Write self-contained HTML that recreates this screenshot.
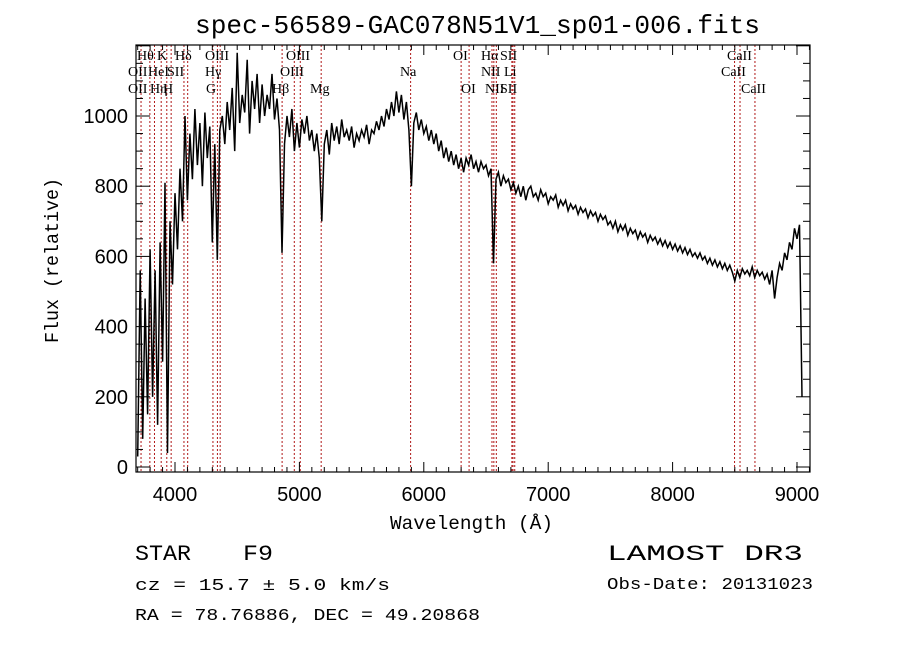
<!DOCTYPE html>
<html><head><meta charset="utf-8"><style>
html,body{margin:0;padding:0;background:#fff;}
svg{display:block;}
</style></head><body>
<svg id="chart" width="900" height="649" viewBox="0 0 900 649" xmlns="http://www.w3.org/2000/svg" font-family="Liberation Mono, monospace">
<rect width="900" height="649" fill="#fff"/>
<text x="195" y="33" font-size="26" textLength="565" lengthAdjust="spacingAndGlyphs">spec-56589-GAC078N51V1_sp01-006.fits</text>
<g id="lines"></g>
<g id="ticks"></g>
<path id="spec" fill="none" stroke="#000" stroke-width="1.5"/>
<rect x="136" y="45" width="674" height="427" fill="none" stroke="#000" stroke-width="1.2"/>
<text x="390" y="529" font-size="19" textLength="163" lengthAdjust="spacingAndGlyphs">Wavelength (Å)</text>
<text transform="translate(58,343) rotate(-90)" font-size="19" textLength="165" lengthAdjust="spacingAndGlyphs">Flux (relative)</text>
<text x="135" y="560" font-size="22" textLength="56" lengthAdjust="spacingAndGlyphs">STAR</text>
<text x="243" y="560" font-size="22" textLength="30" lengthAdjust="spacingAndGlyphs">F9</text>
<text x="607" y="560" font-size="22" textLength="196" lengthAdjust="spacingAndGlyphs">LAMOST DR3</text>
<text x="135" y="590" font-size="17" textLength="255" lengthAdjust="spacingAndGlyphs">cz = 15.7 ± 5.0 km/s</text>
<text x="607" y="589" font-size="17" textLength="206" lengthAdjust="spacingAndGlyphs">Obs-Date: 20131023</text>
<text x="135" y="620" font-size="17" textLength="345" lengthAdjust="spacingAndGlyphs">RA =  78.76886, DEC =  49.20868</text>
</svg>
<script>
const specStart = 3700;
const specStep = 20;
const flux = [30,560,80,480,150,620,200,560,120,640,300,810,40,700,520,780,620,850,700,1000,760,950,820,1020,860,980,800,1010,880,970,640,920,590,960,1000,920,1040,960,1080,900,1180,980,1060,1010,1160,950,1100,1020,1120,980,1090,1000,1060,1020,1120,990,1050,960,610,920,1000,940,1020,900,980,910,990,950,1000,930,960,900,950,880,700,920,960,890,980,930,970,920,990,940,960,930,970,910,950,930,960,940,975,920,960,950,985,960,1000,970,1020,990,1040,1000,1070,1010,1060,990,1040,960,800,980,1010,960,990,950,970,930,960,920,950,900,930,880,910,870,900,860,890,850,880,840,880,860,890,850,870,840,870,850,860,830,850,580,820,840,800,830,810,820,790,810,780,800,770,800,760,790,800,770,780,760,790,770,780,750,770,760,775,740,760,745,760,730,750,735,745,720,740,725,735,710,730,715,725,700,720,705,715,690,700,680,700,670,690,675,690,660,680,665,675,650,670,655,665,640,660,645,655,635,650,630,645,625,640,620,635,615,630,610,625,605,620,600,610,595,610,590,600,580,595,575,590,570,585,565,580,560,575,555,530,560,540,565,550,560,545,570,540,560,545,555,535,550,520,560,480,540,580,560,610,590,640,620,680,650,690,200];
const lineWaves = [3727,3798,3835,3889,3934,3969,4072,4102,4305,4341,4363,4861,4959,5007,5175,5894,6300,6364,6548,6563,6583,6708,6717,6731,8498,8542,8662];
const lineLabels = [["Hθ",137,60],["K",157,60],["Hδ",175,60],["OIII",205,60],["OIII",286,60],["OII",128,76],["HeI",148,76],["SII",167,76],["Hγ",205,76],["OIII",280,76],["OII",128,93],["Hη",150,93],["H",163,93],["G",206,93],["Hβ",272,93],["Mg",310,93],["Na",400,76],["OI",453,60],["Hα",481,60],["SII",500,60],["CaII",727,60],["NII",481,76],["Li",504,76],["CaII",721,76],["OI",461,93],["NII",485,93],["SII",500,93],["CaII",741,93]];
const xTicks = [4000,5000,6000,7000,8000,9000];
const yTicks = [0,200,400,600,800,1000];
const NS="http://www.w3.org/2000/svg";
const X0=136,X1=810,Y0=45,Y1=472;
function xs(w){return 175+(w-4000)*0.1244;}
function ys(f){return 467-f*0.351;}
function mk(tag,attrs,parent){const e=document.createElementNS(NS,tag);for(const k in attrs)e.setAttribute(k,attrs[k]);parent.appendChild(e);return e;}
const gl=document.getElementById('lines');
lineWaves.forEach(w=>{
  const l=mk('line',{x1:xs(w),x2:xs(w),y1:Y0,y2:Y1,stroke:'#b01818','stroke-width':1,'stroke-dasharray':'2,2'},gl);
  
  
});
lineLabels.forEach(d=>{
  const t=mk('text',{x:d[1],y:d[2],'font-size':14,'font-family':'Liberation Serif, serif'},gl);
  t.textContent=d[0];
  
  
});
const gt=document.getElementById('ticks');
for(let w=3700;w<=9100;w+=100){
  const major=w%1000===0;const len=major?10:5;const x=xs(w);
  if(x<X0||x>X1)continue;
  mk('line',{x1:x,x2:x,y1:Y1,y2:Y1-len,stroke:'#000','stroke-width':1},gt);
  mk('line',{x1:x,x2:x,y1:Y0,y2:Y0+len,stroke:'#000','stroke-width':1},gt);
}
xTicks.forEach(w=>{
  const t=mk('text',{x:xs(w),y:501,'font-size':20,'text-anchor':'middle','font-family':'Liberation Sans, sans-serif'},gt);
  t.textContent=w;
  
  
});
for(let f=0;f<=1200;f+=50){
  const major=f%200===0;const len=major?14:7;const y=ys(f);
  if(y<Y0||y>Y1)continue;
  mk('line',{x1:X0,x2:X0+len,y1:y,y2:y,stroke:'#000','stroke-width':1},gt);
  mk('line',{x1:X1,x2:X1-len,y1:y,y2:y,stroke:'#000','stroke-width':1},gt);
}
yTicks.forEach(f=>{
  const t=mk('text',{x:128,y:ys(f)+7,'font-size':20,'text-anchor':'end','font-family':'Liberation Sans, sans-serif'},gt);
  t.textContent=f;
  
  
});
let d='';
flux.forEach((f,i)=>{const w=specStart+i*specStep;d+=(i?'L':'M')+xs(w).toFixed(1)+','+ys(f).toFixed(1);});
document.getElementById('spec').setAttribute('d',d);
</script>
</body></html>
